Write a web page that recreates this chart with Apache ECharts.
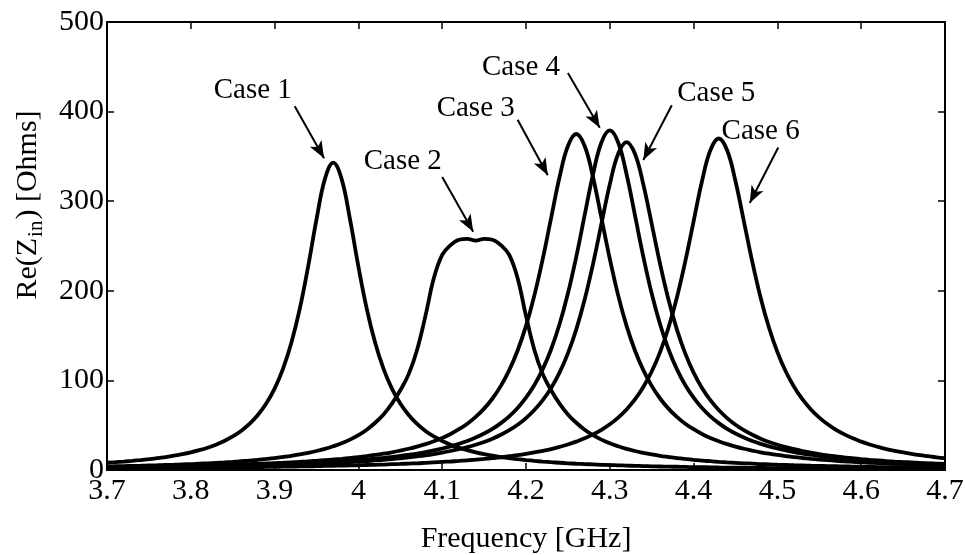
<!DOCTYPE html>
<html>
<head>
<meta charset="utf-8">
<script src="https://cdn.jsdelivr.net/npm/echarts@6/dist/echarts.min.js"></script>
<style>
  html, body { margin: 0; padding: 0; background: #fff; }
  #chart { width: 965px; height: 555px; }
</style>
</head>
<body>
<div id="chart"></div>
<script>
// Frequency samples [GHz]
const freq = [
  3.70, 3.71, 3.72, 3.73, 3.74, 3.75, 3.76, 3.77, 3.78, 3.79,
  3.80, 3.81, 3.82, 3.83, 3.84, 3.85, 3.86, 3.87, 3.88, 3.89,
  3.90, 3.91, 3.92, 3.93, 3.94, 3.95, 3.96, 3.97, 3.98, 3.99,
  4.00, 4.01, 4.02, 4.03, 4.04, 4.05, 4.06, 4.07, 4.08, 4.09,
  4.10, 4.11, 4.12, 4.13, 4.14, 4.15, 4.16, 4.17, 4.18, 4.19,
  4.20, 4.21, 4.22, 4.23, 4.24, 4.25, 4.26, 4.27, 4.28, 4.29,
  4.30, 4.31, 4.32, 4.33, 4.34, 4.35, 4.36, 4.37, 4.38, 4.39,
  4.40, 4.41, 4.42, 4.43, 4.44, 4.45, 4.46, 4.47, 4.48, 4.49,
  4.50, 4.51, 4.52, 4.53, 4.54, 4.55, 4.56, 4.57, 4.58, 4.59,
  4.60, 4.61, 4.62, 4.63, 4.64, 4.65, 4.66, 4.67, 4.68, 4.69,
  4.70
];

// Re(Zin) [Ohms] for each case, one value per frequency sample
const case1 = [
  8.1, 8.7, 9.4, 10.2, 11.1, 12.1, 13.2, 14.5, 16.0, 17.7,
  19.7, 22.1, 24.9, 28.3, 32.4, 37.4, 43.6, 51.4, 61.3, 74.1,
  90.8, 112.8, 141.9, 179.8, 227.1, 279.6, 324.6, 343, 324.6, 279.6,
  227.1, 179.8, 141.9, 112.8, 90.8, 74.1, 61.3, 51.4, 43.6, 37.4,
  32.4, 28.3, 24.9, 22.1, 19.7, 17.7, 16.0, 14.5, 13.2, 12.1,
  11.1, 10.2, 9.4, 8.7, 8.1, 7.5, 7.0, 6.6, 6.2, 5.8,
  5.5, 5.2, 4.9, 4.6, 4.4, 4.1, 3.9, 3.7, 3.6, 3.4,
  3.2, 3.1, 3.0, 2.8, 2.7, 2.6, 2.5, 2.4, 2.3, 2.2,
  2.1, 2.1, 2.0, 1.9, 1.9, 1.8, 1.7, 1.7, 1.6, 1.6,
  1.5, 1.5, 1.4, 1.4, 1.4, 1.3, 1.3, 1.2, 1.2, 1.2,
  1.1
];
const case2 = [
  4.0, 4.2, 4.4, 4.6, 4.8, 5.1, 5.3, 5.6, 5.9, 6.3,
  6.6, 7.1, 7.5, 8.0, 8.5, 9.1, 9.8, 10.5, 11.4, 12.3,
  13.3, 14.5, 15.8, 17.4, 19.2, 21.2, 23.6, 26.5, 29.8, 33.9,
  38.9, 45.0, 52.7, 62, 74, 89, 107, 134, 172, 214,
  240, 251, 257, 258, 256, 258, 257, 251, 240, 214,
  172, 134, 107, 89, 74, 62, 52.7, 45.0, 38.9, 33.9,
  29.8, 26.5, 23.6, 21.2, 19.2, 17.4, 15.8, 14.5, 13.3, 12.3,
  11.4, 10.5, 9.8, 9.1, 8.5, 8.0, 7.5, 7.1, 6.6, 6.3,
  5.9, 5.6, 5.3, 5.1, 4.8, 4.6, 4.4, 4.2, 4.0, 3.8,
  3.6, 3.5, 3.3, 3.2, 3.1, 3.0, 2.8, 2.7, 2.6, 2.5,
  2.5
];
const case3 = [
  3.2, 3.3, 3.5, 3.6, 3.7, 3.9, 4.0, 4.2, 4.4, 4.5,
  4.7, 5.0, 5.2, 5.4, 5.7, 5.9, 6.2, 6.6, 6.9, 7.3,
  7.7, 8.1, 8.6, 9.1, 9.6, 10.3, 11.0, 11.7, 12.5, 13.4,
  14.4, 15.6, 16.8, 18.2, 19.8, 21.7, 23.7, 26.1, 28.9, 32.1,
  35.8, 40.2, 45.5, 51.7, 59.3, 68.5, 79.8, 93.9, 111.4, 133.4,
  160.8, 194.9, 235.6, 281.4, 326.7, 361.6, 375, 361.6, 326.7, 281.4,
  235.6, 194.9, 160.8, 133.4, 111.4, 93.9, 79.8, 68.5, 59.3, 51.7,
  45.5, 40.2, 35.8, 32.1, 28.9, 26.1, 23.7, 21.7, 19.8, 18.2,
  16.8, 15.6, 14.4, 13.4, 12.5, 11.7, 11.0, 10.3, 9.6, 9.1,
  8.6, 8.1, 7.7, 7.3, 6.9, 6.6, 6.2, 5.9, 5.7, 5.4,
  5.2
];
const case4 = [
  2.8, 2.9, 3.0, 3.1, 3.2, 3.4, 3.5, 3.6, 3.8, 3.9,
  4.1, 4.2, 4.4, 4.6, 4.8, 5.0, 5.2, 5.5, 5.7, 6.0,
  6.3, 6.6, 7.0, 7.4, 7.7, 8.2, 8.7, 9.2, 9.7, 10.4,
  11.1, 11.8, 12.6, 13.6, 14.6, 15.7, 17.0, 18.4, 20.0, 21.9,
  24.0, 26.4, 29.2, 32.4, 36.2, 40.7, 45.9, 52.3, 59.9, 69.2,
  80.7, 94.9, 112.6, 134.8, 162.6, 196.9, 238.1, 284.4, 330.1, 365.5,
  379, 365.5, 330.1, 284.4, 238.1, 196.9, 162.6, 134.8, 112.6, 94.9,
  80.7, 69.2, 59.9, 52.3, 45.9, 40.7, 36.2, 32.4, 29.2, 26.4,
  24.0, 21.9, 20.0, 18.4, 17.0, 15.7, 14.6, 13.6, 12.6, 11.8,
  11.1, 10.4, 9.7, 9.2, 8.7, 8.2, 7.7, 7.4, 7.0, 6.6,
  6.3
];
const case5 = [
  2.6, 2.6, 2.7, 2.8, 2.9, 3.0, 3.1, 3.3, 3.4, 3.5,
  3.6, 3.8, 3.9, 4.1, 4.2, 4.4, 4.6, 4.8, 5.1, 5.3,
  5.5, 5.8, 6.1, 6.4, 6.7, 7.1, 7.5, 7.9, 8.4, 8.9,
  9.4, 10.0, 10.7, 11.4, 12.2, 13.1, 14.1, 15.2, 16.4, 17.8,
  19.4, 21.2, 23.2, 25.5, 28.2, 31.3, 35.0, 39.3, 44.4, 50.5,
  57.9, 66.9, 77.9, 91.6, 108.7, 130.2, 157.0, 190.2, 230.0, 274.6,
  318.8, 352.9, 366, 352.9, 318.8, 274.6, 230.0, 190.2, 157.0, 130.2,
  108.7, 91.6, 77.9, 66.9, 57.9, 50.5, 44.4, 39.3, 35.0, 31.3,
  28.2, 25.5, 23.2, 21.2, 19.4, 17.8, 16.4, 15.2, 14.1, 13.1,
  12.2, 11.4, 10.7, 10.0, 9.4, 8.9, 8.4, 7.9, 7.5, 7.1,
  6.7
];
const case6 = [
  1.9, 1.9, 2.0, 2.0, 2.1, 2.1, 2.2, 2.3, 2.4, 2.4,
  2.5, 2.6, 2.7, 2.8, 2.8, 2.9, 3.0, 3.1, 3.3, 3.4,
  3.5, 3.7, 3.8, 4.0, 4.1, 4.3, 4.5, 4.7, 4.9, 5.1,
  5.3, 5.6, 5.8, 6.1, 6.5, 6.8, 7.2, 7.5, 8.0, 8.5,
  9.0, 9.5, 10.1, 10.8, 11.5, 12.3, 13.2, 14.2, 15.4, 16.6,
  18.0, 19.6, 21.4, 23.4, 25.8, 28.5, 31.7, 35.3, 39.7, 44.8,
  51.0, 58.5, 67.6, 78.7, 92.6, 109.9, 131.6, 158.7, 192.3, 232.5,
  277.6, 322.3, 356.8, 370, 356.8, 322.3, 277.6, 232.5, 192.3, 158.7,
  131.6, 109.9, 92.6, 78.7, 67.6, 58.5, 51.0, 44.8, 39.7, 35.3,
  31.7, 28.5, 25.8, 23.4, 21.4, 19.6, 18.0, 16.6, 15.4, 14.2,
  13.2
];

const caseNames = ['Case 1', 'Case 2', 'Case 3', 'Case 4', 'Case 5', 'Case 6'];
const caseValues = [case1, case2, case3, case4, case5, case6];

// Annotation text anchors and arrows, in [GHz, Ohms]
const labelAt   = [[3.874, 424], [4.053, 344], [4.140, 404], [4.194, 449], [4.427, 420], [4.480, 378]];
const arrowFrom = [[3.924, 406], [4.100, 327], [4.190, 391], [4.250, 443], [4.374, 407], [4.501, 360]];
const arrowTo   = [[3.959, 348], [4.137, 266], [4.226, 329], [4.288, 382], [4.340, 346], [4.467, 298]];

const xTicks = [3.7, 3.8, 3.9, 4, 4.1, 4.2, 4.3, 4.4, 4.5, 4.6, 4.7];
const yTicks = [0, 100, 200, 300, 400, 500];

const SERIF = 'Liberation Serif';
const INK = '#000';

const chart = echarts.init(document.getElementById('chart'), null, { renderer: 'canvas' });

const tickFmt = v => String(+(+v).toFixed(2));

const baseAxis = {
  axisLine: { show: true, onZero: false, lineStyle: { color: INK, width: 2 } },
  axisTick: { show: true, inside: true, length: 7, lineStyle: { color: INK, width: 1.5 } },
  splitLine: { show: false }
};

const lineSeries = caseValues.map((vals, s) => ({
  name: caseNames[s],
  type: 'line',
  xAxisIndex: 0,
  yAxisIndex: 0,
  data: freq.map((f, i) => [f, vals[i]]),
  smooth: 0.4,
  showSymbol: false,
  symbol: 'none',
  clip: true,
  lineStyle: { color: INK, width: 3.8 },
  z: 3
}));

// Case labels and arrows
lineSeries[0].markLine = {
  silent: true,
  symbol: ['none', 'arrow'],
  symbolSize: [10, 17],
  precision: 4,
  label: { show: false },
  lineStyle: { color: INK, width: 2, type: 'solid' },
  itemStyle: { color: INK },
  emphasis: { disabled: true },
  data: arrowFrom.map((p, i) => [{ coord: p }, { coord: arrowTo[i] }])
};
lineSeries[0].markPoint = {
  silent: true,
  symbol: 'circle',
  symbolSize: 1,
  itemStyle: { color: 'rgba(0,0,0,0)' },
  label: {
    show: true,
    position: 'inside',
    formatter: '{b}',
    color: INK,
    fontFamily: SERIF,
    fontSize: 29
  },
  data: labelAt.map((p, i) => ({ name: caseNames[i], coord: p }))
};

const option = {
  animation: false,
  backgroundColor: '#fff',
  grid: { left: 107, right: 20, top: 22, bottom: 85, containLabel: false, outerBoundsMode: 'none' },
  xAxis: [
    Object.assign({}, baseAxis, {
      type: 'value', position: 'bottom', min: 3.7, max: 4.7, interval: 0.1,
      axisLabel: {
        color: INK, fontFamily: SERIF, fontSize: 30, margin: 6,
        formatter: v => { const t = +tickFmt(v); return xTicks.indexOf(t) >= 0 ? String(t) : ''; }
      },
      name: 'Frequency [GHz]', nameLocation: 'middle', nameGap: 54,
      nameTextStyle: { color: INK, fontFamily: SERIF, fontSize: 30 }
    }),
    Object.assign({}, baseAxis, {
      type: 'value', position: 'top', min: 3.7, max: 4.7, interval: 0.1,
      axisLabel: { show: false }
    })
  ],
  yAxis: [
    Object.assign({}, baseAxis, {
      type: 'value', position: 'left', min: 0, max: 500, interval: 100,
      axisLabel: {
        color: INK, fontFamily: SERIF, fontSize: 30, margin: 3,
        formatter: v => { const t = +tickFmt(v); return yTicks.indexOf(t) >= 0 ? String(t) : ''; }
      },
      name: '{a|Re(Z}{s|in}{a|) [Ohms]}', nameLocation: 'middle', nameGap: 60, nameRotate: 90,
      nameTextStyle: {
        color: INK, fontFamily: SERIF, fontSize: 30,
        padding: [0, 0, 0, 82],
        rich: {
          a: { color: INK, fontFamily: SERIF, fontSize: 30 },
          s: { color: INK, fontFamily: SERIF, fontSize: 21, padding: [16, 1, 0, 1] }
        }
      }
    }),
    Object.assign({}, baseAxis, {
      type: 'value', position: 'right', min: 0, max: 500, interval: 100,
      axisLabel: { show: false }
    })
  ],
  series: lineSeries
};

chart.setOption(option);
</script>
</body>
</html>
